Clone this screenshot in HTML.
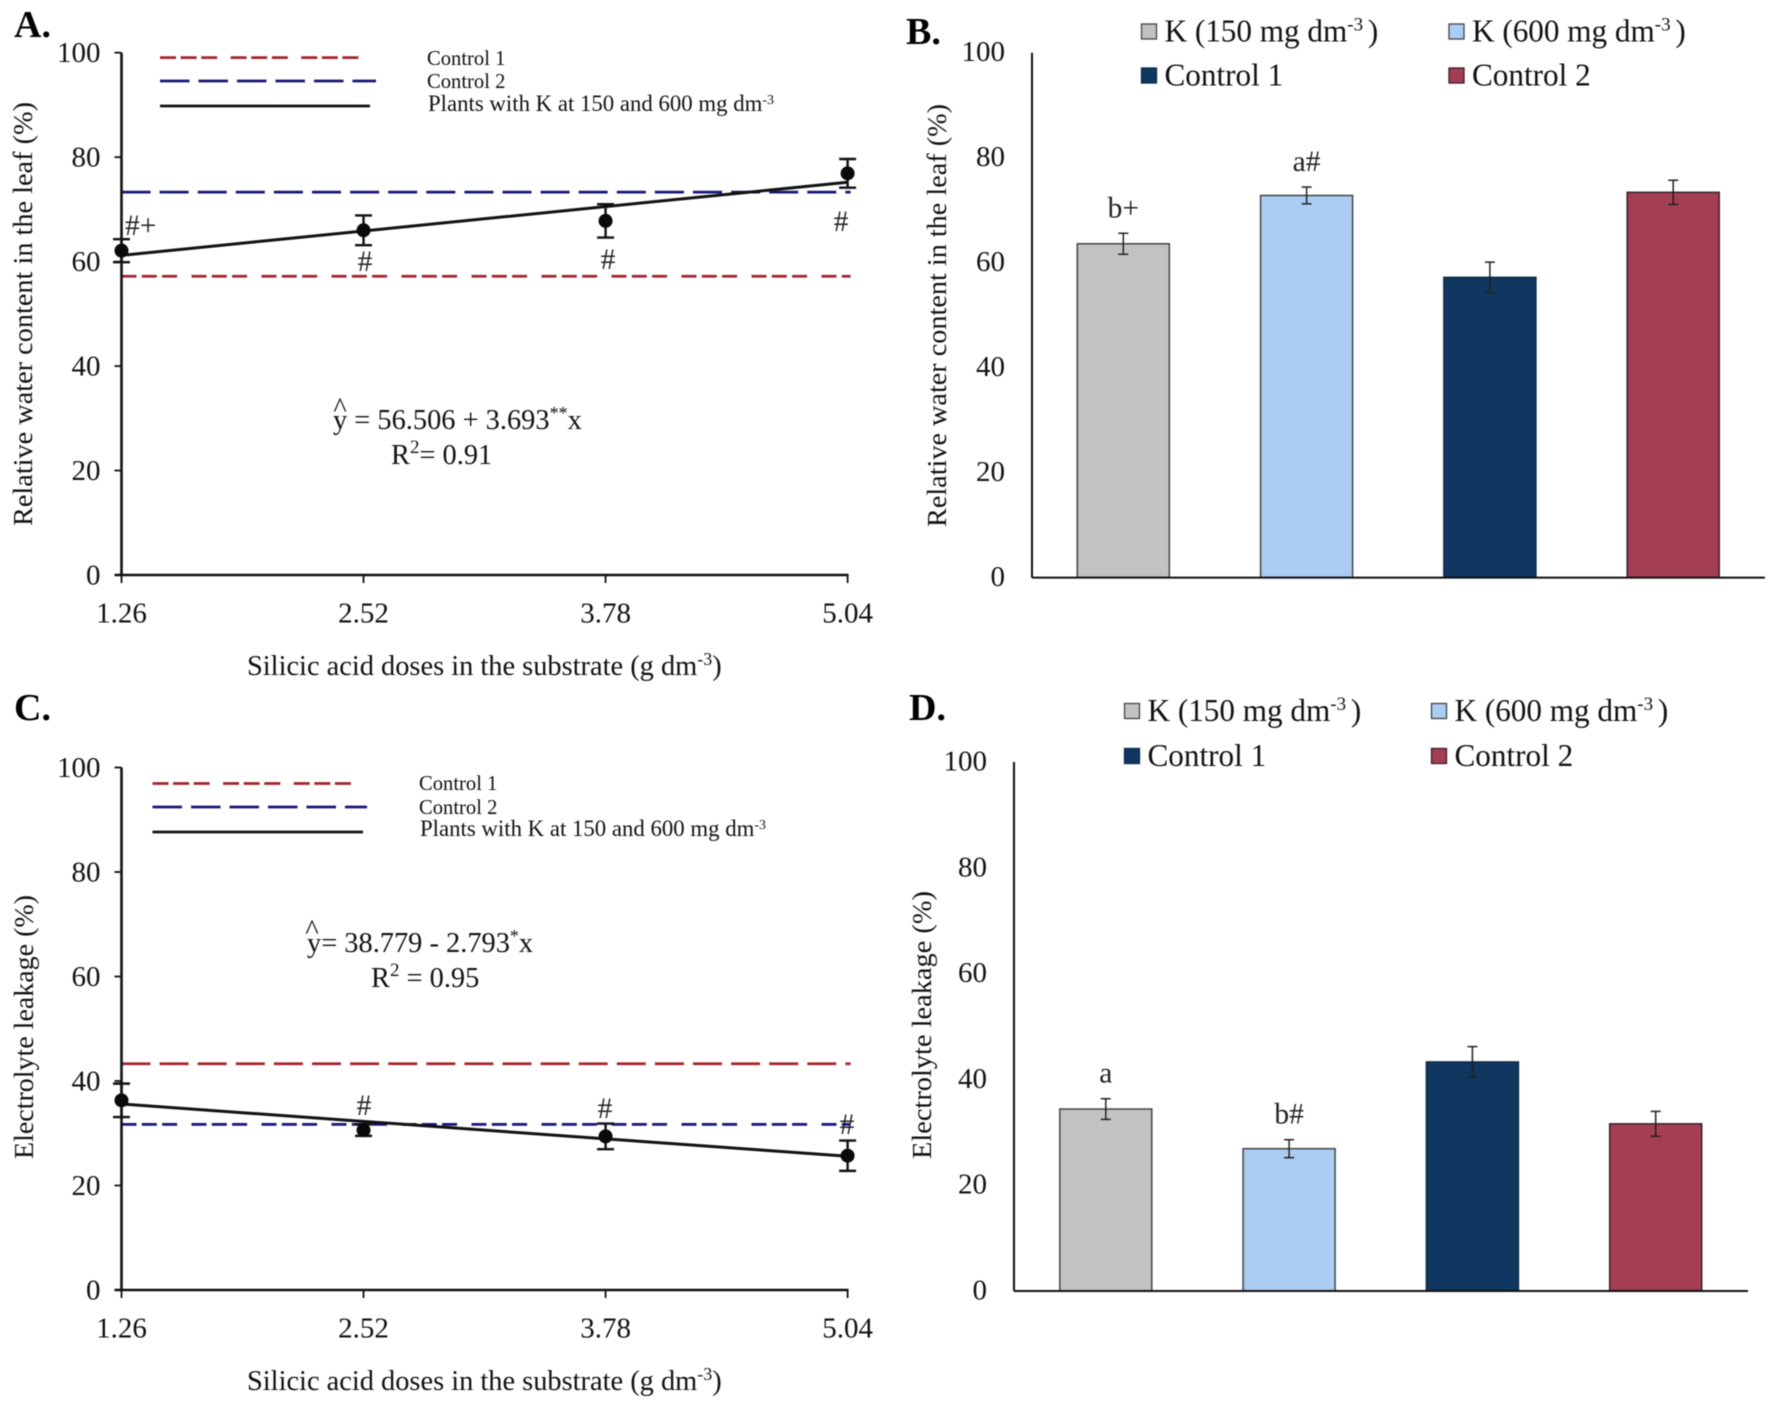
<!DOCTYPE html>
<html lang="en">
<head>
<meta charset="utf-8">
<title>Silicic acid and potassium effects on leaf water content and electrolyte leakage</title>
<style>
html,body{margin:0;padding:0;background:#fff;}
body{width:1772px;height:1405px;overflow:hidden;}
svg{display:block;filter:blur(0.5px);}
text{font-family:"Liberation Serif","Noto Serif CJK SC",serif;fill:#111;}
.tick{font-size:29px;}
.title{font-size:28.4px;}
.ytitle{font-size:27px;}
.small{font-size:20.6px;}
.plants{font-size:22.8px;}
.leg{font-size:31.2px;}
.eq{font-size:28.4px;}
.panel{font-size:38px;font-weight:bold;fill:#000;}
.ann{font-size:29.5px;fill:#222;}
</style>
</head>
<body>
<svg id="figure" xmlns="http://www.w3.org/2000/svg" width="1772" height="1405" viewBox="0 0 1772 1405">
  <rect x="0" y="0" width="1772" height="1405" fill="#fff"/>

  <g id="panel-a">
    <text class="panel" x="14" y="37">A.</text>
    <text class="ytitle" transform="translate(32,526) rotate(-90)" textLength="424" lengthAdjust="spacingAndGlyphs">Relative water content in the leaf (%)</text>
    <text class="title" x="247" y="675">Silicic acid doses in the substrate (g dm<tspan font-size="18" dy="-10">-3</tspan><tspan dy="10">)</tspan></text>
    <line x1="160" y1="57.6" x2="359" y2="57.6" stroke="#a3242b" stroke-width="2.8" stroke-dasharray="16 4.6 16 4.6 16 13.4"/>
    <line x1="160" y1="81" x2="376" y2="81" stroke="#16167a" stroke-width="2.8" stroke-dasharray="29.5 9"/>
    <line x1="160" y1="106" x2="370" y2="106" stroke="#111" stroke-width="2.8"/>
    <text class="small" x="427" y="65">Control 1</text>
    <text class="small" x="427" y="88">Control 2</text>
    <text class="plants" x="428" y="111">Plants with K at 150 and 600 mg dm<tspan font-size="14" dy="-7">-3</tspan></text>
    <text class="ann" x="125" y="235">#+</text>
    <text class="ann" x="365" y="271" text-anchor="middle">#</text>
    <text class="ann" x="608" y="269" text-anchor="middle">#</text>
    <text class="ann" x="841" y="231" text-anchor="middle">#</text>
    <text class="eq" x="340" y="417" text-anchor="middle" font-size="24">^</text>
    <text class="eq" x="333" y="429">y = 56.506 + 3.693<tspan font-size="18" dy="-10">**</tspan><tspan dy="10">x</tspan></text>
    <text class="eq" x="391" y="464">R<tspan font-size="19" dy="-11">2</tspan><tspan dy="11">= 0.91</tspan></text>
  </g>

  <g id="panel-b">
    <text class="panel" x="906" y="44">B.</text>
    <text class="ytitle" transform="translate(946,527) rotate(-90)" textLength="423" lengthAdjust="spacingAndGlyphs">Relative water content in the leaf (%)</text>
  </g>

  <g id="panel-c">
    <text class="panel" x="14" y="720">C.</text>
    <text class="ytitle" transform="translate(33,1159) rotate(-90)" textLength="264" lengthAdjust="spacingAndGlyphs">Electrolyte leakage (%)</text>
    <text class="title" x="247" y="1390">Silicic acid doses in the substrate (g dm<tspan font-size="18" dy="-10">-3</tspan><tspan dy="10">)</tspan></text>
    <line x1="152.5" y1="783.5" x2="353" y2="783.5" stroke="#a3242b" stroke-width="2.8" stroke-dasharray="16 4.6 16 4.6 16 13.4"/>
    <line x1="152.5" y1="807" x2="367" y2="807" stroke="#16167a" stroke-width="2.8" stroke-dasharray="29.5 9"/>
    <line x1="152.5" y1="832" x2="363" y2="832" stroke="#111" stroke-width="2.8"/>
    <text class="small" x="419" y="790">Control 1</text>
    <text class="small" x="419" y="814">Control 2</text>
    <text class="plants" x="420" y="836">Plants with K at 150 and 600 mg dm<tspan font-size="14" dy="-7">-3</tspan></text>
    <text class="ann" x="364" y="1115" text-anchor="middle">#</text>
    <text class="ann" x="605" y="1118" text-anchor="middle">#</text>
    <text class="ann" x="847" y="1134" text-anchor="middle">#</text>
    <text class="eq" x="312" y="939" text-anchor="middle" font-size="24">^</text>
    <text class="eq" x="307" y="952">y= 38.779 - 2.793<tspan font-size="18" dy="-10">*</tspan><tspan dy="10">x</tspan></text>
    <text class="eq" x="371" y="987">R<tspan font-size="19" dy="-11">2</tspan><tspan dy="11"> = 0.95</tspan></text>
  </g>

  <g id="panel-d">
    <text class="panel" x="909" y="720">D.</text>
    <text class="ytitle" transform="translate(931,1159) rotate(-90)" textLength="268" lengthAdjust="spacingAndGlyphs">Electrolyte leakage (%)</text>
  </g>
</svg>

<script>
// Shared tick labels and categories
const doseLabels = ["1.26", "2.52", "3.78", "5.04"];
const doses = [1.26, 2.52, 3.78, 5.04];
const yTickValues = [0, 20, 40, 60, 80, 100];
const trendDoses = [1.26, 5.04];
const barSeriesNames = ["K (150 mg dm", "K (600 mg dm", "Control 1", "Control 2"];

// Panel A: relative water content vs silicic acid dose
const panelAPoints = [62.1, 66.0, 67.8, 76.9];
const panelAErrors = [2.2, 2.85, 3.2, 2.75];
const panelATrend = [61.2, 75.2];
const panelAControl1 = 57.2;
const panelAControl2 = 73.3;

// Panel B: relative water content bars
const panelBValues = [63.6, 72.8, 57.2, 73.4];
const panelBErrors = [2.0, 1.6, 2.9, 2.3];
const panelBLetters = ["b+", "a#", "", ""];

// Panel C: electrolyte leakage vs silicic acid dose
const panelCPoints = [36.3, 30.6, 29.4, 25.7];
const panelCErrors = [3.2, 1.1, 2.45, 2.9];
const panelCTrend = [35.6, 25.6];
const panelCControl1 = 43.3;
const panelCControl2 = 31.7;

// Panel D: electrolyte leakage bars
const panelDValues = [34.4, 26.9, 43.3, 31.6];
const panelDErrors = [1.95, 1.7, 2.9, 2.35];
const panelDLetters = ["a", "b#", "", ""];

const NS = "http://www.w3.org/2000/svg";
const BAR_FILLS = ["#c2c2c2", "#abcdf3", "#10375f", "#a43e53"];
const BAR_STROKES = ["#444", "#444", "#0b2a4a", "#3a2028"];
const DASH_TRIPLE = "15 5.3 15 5.3 15 14.4";
const DASH_LONG = "29 9.1";

function mk(tag, attrs, parent) {
  const el = document.createElementNS(NS, tag);
  for (const k in attrs) el.setAttribute(k, attrs[k]);
  parent.appendChild(el);
  return el;
}

function drawLinePanel(parentId, frame, points, errors, trend, control1, control2, dash1, dash2) {
  const g = document.getElementById(parentId);
  const xScale = function (d) { return frame.left + (d - doses[0]) / (doses[3] - doses[0]) * (frame.right - frame.left); };
  const yScale = function (v) { return frame.bottom - v / 100 * (frame.bottom - frame.top); };

  const c1 = mk("line", { x1: frame.left, x2: frame.right + 3, y1: yScale(control1), y2: yScale(control1), stroke: "#a3242b", "stroke-width": 2.8, "stroke-dasharray": dash1 }, g);
  
  
  const c2 = mk("line", { x1: frame.left, x2: frame.right + 3, y1: yScale(control2), y2: yScale(control2), stroke: "#16167a", "stroke-width": 2.8, "stroke-dasharray": dash2 }, g);
  
  

  const yAxis = mk("line", { x1: frame.left, x2: frame.left, y1: frame.top, y2: frame.bottom, stroke: "#111", "stroke-width": 2.6 }, g);
  
  
  const xAxis = mk("line", { x1: frame.left - 7, x2: frame.right + 1, y1: frame.bottom, y2: frame.bottom, stroke: "#111", "stroke-width": 2.6 }, g);
  
  

  yTickValues.forEach(function (t) {
    const tick = mk("line", { x1: frame.left - 7, x2: frame.left, y1: yScale(t), y2: yScale(t), stroke: "#111", "stroke-width": 1.8 }, g);
    
    
    const lab = mk("text", { x: frame.left - 21, y: yScale(t) + 9.5, "text-anchor": "end", class: "tick" }, g);
    
    
    lab.textContent = t;
  });

  doses.forEach(function (d, i) {
    const tick = mk("line", { x1: xScale(d), x2: xScale(d), y1: frame.bottom, y2: frame.bottom + 8, stroke: "#111", "stroke-width": 1.8 }, g);
    
    
    const lab = mk("text", { x: xScale(d), y: frame.bottom + 47.5, "text-anchor": "middle", class: "tick" }, g);
    
    
    lab.textContent = doseLabels[i];
  });

  const tl = mk("line", { x1: xScale(trendDoses[0]), x2: xScale(trendDoses[1]), y1: yScale(trend[0]), y2: yScale(trend[1]), stroke: "#111", "stroke-width": 3 }, g);
  
  

  points.forEach(function (v, i) {
    const x = xScale(doses[i]);
    const top = yScale(v + errors[i]);
    const bot = yScale(v - errors[i]);
    const stem = mk("line", { x1: x, x2: x, y1: top, y2: bot, stroke: "#111", "stroke-width": 2.4 }, g);
    
    
    const capTop = mk("line", { x1: x - 8.5, x2: x + 8.5, y1: top, y2: top, stroke: "#111", "stroke-width": 2.4 }, g);
    
    
    const capBot = mk("line", { x1: x - 8.5, x2: x + 8.5, y1: bot, y2: bot, stroke: "#111", "stroke-width": 2.4 }, g);
    
    
    const dot = mk("ellipse", { cx: x, cy: yScale(v), rx: 7, ry: 7, fill: "#0a0a0a" }, g);
    
    
  });
}

function drawBarPanel(parentId, frame, values, errors, letters, legend) {
  const g = document.getElementById(parentId);
  const yScale = function (v) { return frame.bottom - v / 100 * (frame.bottom - frame.top); };
  const xCenter = function (i) { return frame.firstCenter + i * frame.step; };

  values.forEach(function (v, i) {
    const cx = xCenter(i);
    const bar = mk("rect", { x: cx - frame.barWidth / 2, y: yScale(v), width: frame.barWidth, height: frame.bottom - yScale(v), fill: BAR_FILLS[i], stroke: BAR_STROKES[i], "stroke-width": 1.5 }, g);
    
    
    const top = yScale(v + errors[i]);
    const bot = yScale(v - errors[i]);
    const stem = mk("line", { x1: cx, x2: cx, y1: top, y2: bot, stroke: "#222", "stroke-width": 1.5 }, g);
    
    
    const capTop = mk("line", { x1: cx - 5, x2: cx + 5, y1: top, y2: top, stroke: "#222", "stroke-width": 1.5 }, g);
    
    
    const capBot = mk("line", { x1: cx - 5, x2: cx + 5, y1: bot, y2: bot, stroke: "#222", "stroke-width": 1.5 }, g);
    
    
    if (letters[i]) {
      const note = mk("text", { x: cx, y: top - 16, "text-anchor": "middle", class: "ann" }, g);
      
      
      note.textContent = letters[i];
    }
  });

  const yAxis = mk("line", { x1: frame.left, x2: frame.left, y1: frame.top, y2: frame.bottom, stroke: "#111", "stroke-width": 2 }, g);
  
  
  const xAxis = mk("line", { x1: frame.left, x2: frame.right, y1: frame.bottom, y2: frame.bottom, stroke: "#111", "stroke-width": 2 }, g);
  
  

  yTickValues.forEach(function (t) {
    const lab = mk("text", { x: frame.left - 27, y: yScale(t) + 8.5, "text-anchor": "end", class: "tick" }, g);
    
    
    lab.textContent = t;
  });

  barSeriesNames.forEach(function (name, i) {
    const col = i % 2;
    const row = Math.floor(i / 2);
    const sx = col === 0 ? legend.x1 : legend.x2;
    const cy = row === 0 ? legend.y1 : legend.y2;
    const swatch = mk("rect", { x: sx, y: cy - 7.5, width: 15, height: 15, fill: BAR_FILLS[i], stroke: BAR_STROKES[i], "stroke-width": 1.3 }, g);
    
    
    const lab = mk("text", { x: sx + 23, y: cy + 10, class: "leg" }, g);
    
    
    lab.textContent = name;
    if (i < 2) {
      const sup = mk("tspan", { "font-size": 19, dy: -11 }, lab);
      
      
      sup.textContent = "-3 ";
      const close = mk("tspan", { dy: 11 }, lab);
      
      
      close.textContent = ")";
    }
  });
}

drawLinePanel("panel-a", { left: 121.5, right: 847.6, top: 52.7, bottom: 575 }, panelAPoints, panelAErrors, panelATrend, panelAControl1, panelAControl2, DASH_TRIPLE, DASH_LONG);
drawBarPanel("panel-b", { left: 1032, right: 1765, top: 52.7, bottom: 577.6, firstCenter: 1123.3, step: 183.3, barWidth: 92 }, panelBValues, panelBErrors, panelBLetters, { x1: 1141.5, x2: 1449, y1: 31.5, y2: 75.5 });
drawLinePanel("panel-c", { left: 121.5, right: 847.6, top: 767.5, bottom: 1290 }, panelCPoints, panelCErrors, panelCTrend, panelCControl1, panelCControl2, DASH_LONG, DASH_TRIPLE);
drawBarPanel("panel-d", { left: 1014, right: 1748, top: 762, bottom: 1291, firstCenter: 1105.8, step: 183.3, barWidth: 92 }, panelDValues, panelDErrors, panelDLetters, { x1: 1124.5, x2: 1431.5, y1: 711, y2: 756 });
</script>
</body>
</html>
